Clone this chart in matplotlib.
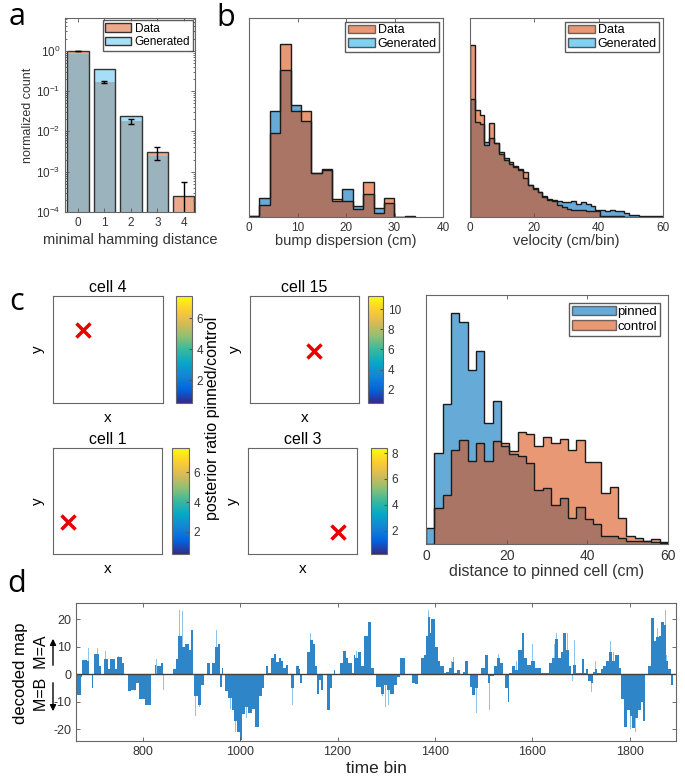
import numpy as np
import matplotlib
matplotlib.use("Agg")
import matplotlib.pyplot as plt
from matplotlib.patches import Patch, FancyArrowPatch
from matplotlib.colors import LinearSegmentedColormap, Normalize
from matplotlib.cm import ScalarMappable

plt.rcParams['font.family'] = ['Liberation Sans', 'DejaVu Sans']
plt.rcParams['axes.edgecolor'] = '#666666'
plt.rcParams['axes.unicode_minus'] = False
plt.rcParams['xtick.color'] = '#555555'
plt.rcParams['ytick.color'] = '#555555'
plt.rcParams['xtick.labelcolor'] = '#333333'
plt.rcParams['ytick.labelcolor'] = '#333333'
plt.rcParams['xtick.direction'] = 'in'
plt.rcParams['ytick.direction'] = 'in'

# ---- panel a: minimal hamming distance ----
ham_x = [0, 1, 2, 3, 4]
ham_data = [0.98, 0.17, 0.0177, 0.0030, 0.00025]
ham_gen = [0.81, 0.35, 0.0245, 0.0025, 0.0]
ham_err_lo = [0.02, 0.01, 0.0022, 0.0010, 0.00024]
ham_err_hi = [0.02, 0.01, 0.0020, 0.0012, 0.00029]

# ---- panel b: bump dispersion / velocity histograms ----
disp_edges = np.arange(17) * 2.14
disp_data = [3, 35, 252, 519, 319, 319, 132, 144, 54, 49, 24, 104, 12, 57, 0, 0]
disp_gen = [3, 57, 319, 442, 337, 289, 132, 140, 49, 84, 32, 69, 27, 42, 0, 2]

vel_edges = np.arange(41) * 1.5
vel_data = [515, 320, 306, 217, 283, 222, 195, 172, 165, 152, 143, 134, 97, 87, 74,
            60, 52, 47, 37, 30, 24, 22, 20, 20, 19, 17, 17, 4, 4, 2,
            2, 2, 1, 0, 0, 0, 0, 0, 0, 0]
vel_gen = [354, 285, 278, 224, 237, 222, 190, 178, 160, 150, 140, 118, 97, 85, 76,
           62, 54, 52, 47, 44, 44, 47, 40, 44, 40, 34, 22, 22, 19, 22,
           19, 17, 12, 7, 7, 4, 2, 2, 2, 4]

# ---- panel c: pinned cells ----
cells = ['cell 4', 'cell 15', 'cell 1', 'cell 3']
pin_x = [0.27, 0.59, 0.14, 0.83]
pin_y = [0.68, 0.49, 0.30, 0.21]
cb_min = [0.53, 0.67, 0.49, 0.19]
cb_max = [7.45, 11.33, 7.65, 8.39]
cb_ticks = [[2, 4, 6], [2, 4, 6, 8, 10], [2, 4, 6], [2, 4, 6, 8]]

dist_edges = np.linspace(0, 60, 30)
dist_pinned = [47, 275, 423, 695, 670, 525, 580, 363, 430, 295, 270, 265, 243, 163, 170,
               117, 140, 77, 110, 75, 60, 25, 25, 17, 10, 8, 10, 5, 3]
dist_control = [0, 107, 147, 283, 313, 250, 305, 250, 310, 305, 280, 338, 330, 295, 322,
                303, 317, 283, 313, 247, 247, 155, 173, 78, 25, 17, 8, 15, 7]

# ---- panel d: decoded map over time ----
d_starts = [663, 673, 676, 685, 689, 695, 698, 700, 710, 715, 720, 728, 733, 744, 748,
            758, 762, 769, 776, 786, 792, 805, 818, 825, 828, 830, 838, 841, 862, 868,
            873, 880, 887, 894, 899, 904, 906, 913, 919, 926, 931, 938, 943, 948, 954,
            959, 962, 964, 968, 976, 983, 988, 993, 1000, 1003, 1010, 1017, 1024, 1031, 1038,
            1045, 1050, 1053, 1058, 1064, 1069, 1074, 1079, 1084, 1089, 1094, 1099, 1105, 1110, 1115,
            1120, 1123, 1128, 1137, 1143, 1149, 1154, 1158, 1161, 1166, 1171, 1178, 1185, 1189, 1192,
            1195, 1205, 1212, 1218, 1222, 1229, 1233, 1236, 1243, 1248, 1255, 1262, 1269, 1274, 1279,
            1290, 1295, 1301, 1308, 1315, 1322, 1329, 1338, 1353, 1360, 1366, 1372, 1377, 1381, 1385,
            1389, 1392, 1400, 1406, 1411, 1418, 1422, 1429, 1436, 1440, 1445, 1452, 1457, 1462, 1468,
            1473, 1477, 1483, 1489, 1495, 1502, 1509, 1514, 1521, 1528, 1534, 1539, 1544, 1550, 1552,
            1559, 1565, 1571, 1578, 1582, 1590, 1598, 1605, 1617, 1634, 1641, 1647, 1652, 1658, 1663,
            1670, 1675, 1680, 1684, 1689, 1703, 1707, 1711, 1714, 1720, 1725, 1728, 1733, 1740, 1746,
            1752, 1757, 1764, 1770, 1777, 1782, 1789, 1794, 1800, 1805, 1810, 1816, 1823, 1827, 1832,
            1838, 1844, 1849, 1854, 1860, 1864, 1870, 1875, 1879, 1884, 1888]
d_vals = [-7.5, -1, 5.2, 5, 0, -4.8, 0, 7.5, 3, 0, 5.7, 2, 5.5, 2, 6.3,
          4.2, 0, -6, -5.5, -3, -9, -11, 0, 3.5, 0, 3, 4, 0, 2, 5.5,
          14, 10, 11, 9, 16, 0, -8, -11, -4, 0, 4, 0, 4, 10, 11,
          -4.5, 2.5, 0, -6, -8.5, -13, -17, -21, -24, -14.5, -12, -14, -12.5, -19, -8,
          -5, 0, 3, 0.5, 6, 7.5, 4.5, 6, 5, 2.5, 3.5, 0, -5, 0, 3,
          2, -3, 0, 8, 12.5, 11, 3, -7, -2, -5.5, 0, -13, -5, 0, 1.5,
          0, 4, 8.5, 6, 4, 0.5, 7, 6, 8, 3, 14, 19, 2.5, 0, -4.5,
          -7, -4, -5.5, -7, -4, -1, 6, 0, -3, -3.5, 0, 6, 7, 14, 21,
          15, 20, 10, 5, 3, 0.5, 1, 2.5, 4.5, 0.5, 1.5, 0, 1, 5, 0,
          -4.5, -7.5, -5, 0, 2.5, 7, -3, -0.5, 3, 6, 4, 0, -5, -10, 0.5,
          3, 1.5, 9, 15, 6, 3.5, 5, 2.5, 0.5, 4, 6, 13, 6, 8, 15,
          9, 3, 0, 3.5, 0.5, 5.5, 0.5, 2, -2.5, -3, 1, 2, 0.5, 2, 3,
          5, 8, 5, 7, 2.5, -9, -19, -13, -15, -19.5, -16, -13, -10, -17, 0,
          3, 20.5, 12, 13.5, 14, 19, 18, 5, 2, -4]
spike_t = [688, 707, 724, 750, 772, 828, 842, 875, 882, 901, 908, 916, 924, 951, 980,
           990, 998, 1013, 1055, 1082, 1086, 1108, 1125, 1145, 1160, 1215, 1239, 1250, 1293, 1298,
           1304, 1312, 1357, 1363, 1387, 1434, 1438, 1480, 1486, 1505, 1512, 1531, 1568, 1593, 1601,
           1645, 1650, 1672, 1682, 1686, 1722, 1730, 1749, 1760, 1766, 1802, 1812, 1857, 1873, 1876]
spike_v = [9.7, 9.7, 8.5, 6.7, -11, 5.5, -5.5, 23.6, 23, 16, -15, -12, -10, 16, -12.5,
           -21, -21, -16, 5, 9.7, 8, -11, -18.5, 15, -12, 8.5, 8.5, 7, -8, -12,
           -11, -11, -5.5, -7, 23.5, 5, 6.5, -12, -14, 8, -13, 7.5, 5, 11, 11,
           11, 15, 15, -2.5, 12.5, -6.5, 5, 7, 12, 8, -20, -21, 17, 23.5, 7]

W, H = 685, 778
fig = plt.figure(figsize=(W / 100, H / 100), dpi=100)


def axpx(l, t, r, b):
    return fig.add_axes([l / W, 1 - b / H, (r - l) / W, (b - t) / H])


def box_ticks(ax):
    ax.tick_params(top=True, right=True, length=3, width=0.6, labelsize=8.5)
    for s in ax.spines.values():
        s.set_linewidth(0.8)


blue = '#0072BD'
orange = '#D95319'
hist_alpha = 0.6

# ---------- a ----------
ax = axpx(65, 18, 195, 212)
ax.bar(ham_x, ham_data, width=0.8, color=orange, alpha=0.5, edgecolor='none')
ax.bar(ham_x, ham_gen, width=0.8, color='#4DBEEE', alpha=0.5, edgecolor='none')
ax.bar(ham_x, np.maximum(ham_data, ham_gen), width=0.8, fill=False, edgecolor='#333333', lw=1)
ax.errorbar(ham_x, ham_data, yerr=[ham_err_lo, ham_err_hi], fmt='none', ecolor='black',
            elinewidth=1, capsize=2)
ax.set_yscale('log')
ax.set_ylim(1e-4, 10 ** 0.81)
ax.set_xlim(-0.49, 4.42)
ax.set_xticks(ham_x)
ax.set_yticks([1e-4, 1e-3, 1e-2, 1e-1, 1])
box_ticks(ax)
ax.tick_params(which='minor', length=1.5, left=True, right=True)
ax.set_xlabel('minimal hamming distance', fontsize=10.5, color='#333333', labelpad=3)
ax.set_ylabel('normalized count', fontsize=9, color='#333333', labelpad=1)
ax.legend(handles=[Patch(facecolor='#ECA98C', edgecolor='#333333', label='Data'),
                   Patch(facecolor='#A6DFF6', edgecolor='#333333', label='Generated')],
          loc='upper right', fontsize=8.5, fancybox=False, edgecolor='#333333',
          borderaxespad=0.2, handlelength=2.2, handletextpad=0.3, borderpad=0.2,
          labelspacing=0.15)


def hist_pair(ax, edges, first, second, c1, c2):
    ax.stairs(first, edges, fill=True, color=c1, alpha=hist_alpha, lw=0)
    ax.stairs(second, edges, fill=True, color=c2, alpha=hist_alpha, lw=0)
    ax.stairs(first, edges, color='#1a1a1a', lw=1, baseline=0)
    ax.stairs(second, edges, color='#1a1a1a', lw=1, baseline=0)


# ---------- b ----------
leg_b = [Patch(facecolor=orange, alpha=hist_alpha, edgecolor='#1a1a1a', label='Data'),
         Patch(facecolor='#4DBEEE', alpha=0.7, edgecolor='#1a1a1a', label='Generated')]

ax = axpx(249, 18, 443, 217)
hist_pair(ax, disp_edges, disp_gen, disp_data, blue, orange)
ax.set_xlim(0, 40)
ax.set_ylim(0, 597)
ax.set_yticks([])
ax.set_xticks([0, 10, 20, 30, 40])
box_ticks(ax)
ax.set_xlabel('bump dispersion (cm)', fontsize=10.5, color='#333333', labelpad=0)
ax.legend(handles=leg_b, loc='upper right', fontsize=9, fancybox=False, edgecolor='#333333',
          borderaxespad=0.3, handlelength=2.2, handletextpad=0.2, borderpad=0.2,
          labelspacing=0.1)

ax = axpx(470, 18, 663, 217)
hist_pair(ax, vel_edges, vel_gen, vel_data, blue, orange)
ax.set_xlim(0, 60)
ax.set_ylim(0, 597)
ax.set_yticks([])
ax.set_xticks([0, 20, 40, 60])
box_ticks(ax)
ax.set_xlabel('velocity (cm/bin)', fontsize=10.5, color='#333333', labelpad=0)
ax.legend(handles=leg_b, loc='upper right', fontsize=9, fancybox=False, edgecolor='#333333',
          borderaxespad=0.3, handlelength=2.2, handletextpad=0.2, borderpad=0.2,
          labelspacing=0.1)

# ---------- c: maps ----------
parula = LinearSegmentedColormap.from_list(
    'parula', ['#352a87', '#0363e1', '#1485d4', '#06a7c6', '#38b99e',
               '#92bf73', '#d9ba56', '#fcce2e', '#f9fb0e'])
map_boxes = [(53, 296, 163, 403), (250, 296, 359, 403), (53, 448, 162, 554), (248, 448, 357, 554)]
cb_boxes = [(176, 296, 192, 403), (368, 296, 383, 403), (172, 448, 189, 554), (371, 448, 387, 554)]
for i in range(4):
    ax = axpx(*map_boxes[i])
    ax.plot(pin_x[i], pin_y[i], marker='x', color='#E60000', ms=10, mew=2.5)
    ax.set_xlim(0, 1)
    ax.set_ylim(0, 1)
    ax.set_xticks([])
    ax.set_yticks([])
    ax.set_title(cells[i], fontsize=11.5, pad=3)
    ax.set_xlabel('x', fontsize=11, labelpad=6)
    ax.set_ylabel('y', fontsize=11, labelpad=6)
    cax = axpx(*cb_boxes[i])
    sm = ScalarMappable(norm=Normalize(cb_min[i], cb_max[i]), cmap=parula)
    cb = fig.colorbar(sm, cax=cax, ticks=cb_ticks[i])
    cb.outline.set_edgecolor('#666666')
    cb.ax.tick_params(labelsize=8.5, length=2, direction='in')

fig.text(213 / W, 1 - 418 / H, 'posterior ratio pinned/control', rotation=90,
         ha='center', va='center', fontsize=11.5)

# ---------- c: distance histogram ----------
ax = axpx(426, 295, 668, 544)
hist_pair(ax, dist_edges, dist_pinned, dist_control, blue, orange)
ax.set_xlim(0, 60)
ax.set_ylim(0, 750)
ax.set_yticks([])
ax.set_xticks([0, 20, 40, 60])
box_ticks(ax)
ax.tick_params(labelsize=10)
ax.set_xlabel('distance to pinned cell (cm)', fontsize=11.5, color='#333333', labelpad=1)
ax.legend(handles=[Patch(facecolor=blue, alpha=hist_alpha, edgecolor='#1a1a1a', label='pinned'),
                   Patch(facecolor=orange, alpha=hist_alpha, edgecolor='#1a1a1a', label='control')],
          loc='upper right', fontsize=9.5, fancybox=False, edgecolor='#333333',
          borderaxespad=0.6, handlelength=3.3, handletextpad=0.1, borderpad=0.25,
          labelspacing=0.15)

# ---------- d ----------
ax = axpx(76, 603, 676, 741)
d_left = np.array(d_starts[:-1])
d_width = np.diff(d_starts)
ax.bar(spike_t, spike_v, width=1.5, color='#8EC3EA', lw=0)
ax.bar(d_left, d_vals, width=d_width, align='edge', color='#2E86C8', lw=0)
ax.axhline(0, color='#404040', lw=1)
ax.set_xlim(663, 1895)
ax.set_ylim(-24.2, 26)
ax.set_xticks([800, 1000, 1200, 1400, 1600, 1800])
ax.set_yticks([-20, -10, 0, 10, 20])
box_ticks(ax)
ax.tick_params(labelsize=9)
ax.set_xlabel('time bin', fontsize=12.5, color='#222222', labelpad=2)

fig.text(21 / W, 1 - 673 / H, 'decoded map', rotation=90, ha='center', va='center', fontsize=12)
fig.text(41 / W, 1 - 673 / H, 'M=B  M=A', rotation=90, ha='center', va='center', fontsize=11.5)
for y0, y1 in [(668, 636), (680, 714)]:
    fig.add_artist(FancyArrowPatch((53 / W, 1 - y0 / H), (53 / W, 1 - y1 / H),
                                   transform=fig.transFigure, arrowstyle='-|>',
                                   mutation_scale=9, color='black', lw=1))

# panel letters
for lab, x, y in [('a', 17, 17), ('b', 226, 18), ('c', 17, 302), ('d', 17, 584)]:
    fig.text(x / W, 1 - y / H, lab, fontsize=22, ha='center', va='center',
             family=['Open Sans', 'DejaVu Sans'])

fig.savefig('out.png', dpi=100)
